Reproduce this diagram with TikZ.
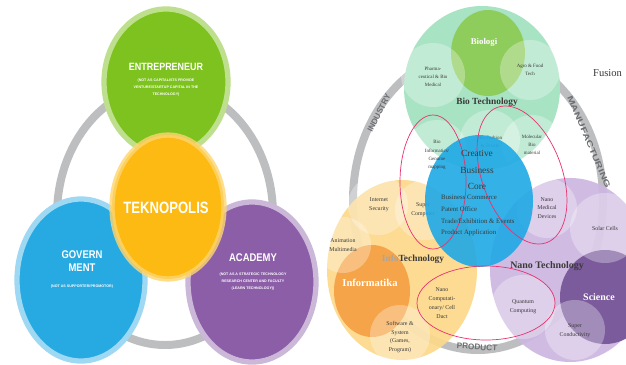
\documentclass[tikz,border=0pt]{standalone}
\usepackage{fontspec}
\setmainfont{Liberation Serif}
\setsansfont{Liberation Sans}
\definecolor{ringgray}{HTML}{BDBEC0}
\definecolor{ringtextgray}{HTML}{6D6E71}
\definecolor{entgreen}{HTML}{7DC21E}
\definecolor{tekyellow}{HTML}{FDBA12}
\definecolor{govblue}{HTML}{27A9E1}
\definecolor{acapurple}{HTML}{8C5EA8}
\definecolor{mint}{HTML}{A8E3C4}
\definecolor{biogreen}{HTML}{8ECC5C}
\definecolor{coreblue}{HTML}{1FA9E5}
\definecolor{infoyellow}{HTML}{FDD98A}
\definecolor{infoorange}{HTML}{F5A449}
\definecolor{nanopurple}{HTML}{CDB6E0}
\definecolor{sciencepurple}{HTML}{7B5B9C}
\definecolor{loopred}{HTML}{E8336F}
\definecolor{labeldark}{HTML}{3A3A3A}
\tikzset{
  greyring/.style={draw=ringgray, line width=6.8pt},
  bigdisc/.style={line width=4.5pt},
  softdisc/.style={fill=white, fill opacity=.3},
  pinkloop/.style={draw=loopred, line width=.6pt},
  bighead/.style={text=white, font=\sffamily\bfseries\fontsize{9}{10}\selectfont, align=center, inner sep=0pt},
  finetext/.style={text=white, font=\sffamily\bfseries\fontsize{3.1}{6}\selectfont, align=center, inner sep=0pt},
  ringtext/.style={text=ringtextgray, font=\sffamily\bfseries\fontsize{7}{7}\selectfont, inner sep=0pt},
  smalllbl/.style={text=labeldark, font=\fontsize{5}{7.5}\selectfont, align=center, inner sep=0pt},
  techlbl/.style={text=labeldark, font=\bfseries\fontsize{8}{9}\selectfont, inner sep=0pt},
  whitelbl/.style={text=white, font=\bfseries\fontsize{8.5}{9}\selectfont, inner sep=0pt}
}
\begin{document}
\begin{tikzpicture}[x=0.03cm, y=-0.03cm]
\clip (0,0) rectangle (626,364);
\fill[white] (0,0) rectangle (626,364);

\draw[greyring] (165,215) ellipse [x radius=108, y radius=130];
\filldraw[bigdisc, fill=entgreen, draw=entgreen!50] (166,82) ellipse [x radius=62, y radius=73];
\filldraw[bigdisc, fill=govblue, draw=govblue!45] (81,280) ellipse [x radius=64, y radius=81];
\filldraw[bigdisc, fill=acapurple, draw=acapurple!45] (252,282) ellipse [x radius=64, y radius=80];
\filldraw[bigdisc, fill=tekyellow, draw=tekyellow!60, draw opacity=.8] (168,207) ellipse [x radius=56, y radius=72];

\node[bighead] (entre) at (166,67) {\scalebox{.85}[1]{ENTREPRENEUR}};
\node[finetext] (entrenote) at (166,88) {(NOT AS CAPITALISTS PROVIDE\\VENTURE/STARTUP CAPITAL IN THE\\TECHNOLOGY)};
\node[bighead, font=\sffamily\bfseries\fontsize{14}{14}\selectfont] (tekno) at (166,208) {\scalebox{.8}[1]{TEKNOPOLIS}};
\node[bighead, font=\sffamily\bfseries\fontsize{9.5}{11.5}\selectfont] (govern) at (82,261) {\scalebox{.85}[1]{GOVERN}\\\scalebox{.85}[1]{MENT}};
\node[finetext] (governnote) at (82,287) {(NOT AS SUPPORTER/PROMOTOR)};
\node[bighead, font=\sffamily\bfseries\fontsize{9.5}{10}\selectfont] (academy) at (253,258) {\scalebox{.85}[1]{ACADEMY}};
\node[finetext] (academynote) at (253,282) {(NOT AS A STRATEGIC TECHNOLOGY\\RESEARCH CENTER AND FACULTY\\(LEARN TECHNOLOGY))};

\draw[greyring] (478,200) ellipse [x radius=125, y radius=150];
\fill[mint] (482,88) ellipse [x radius=78, y radius=82];
\fill[biogreen] (488,53) ellipse [x radius=37, y radius=43];
\foreach \cx/\cy/\r in {433/75/32, 530/70/30, 437/150/30, 490/140/30, 532/145/30}
  \fill[softdisc] (\cx,\cy) circle [radius=\r];

\fill[infoyellow, fill opacity=.92] (402,270) ellipse [x radius=75, y radius=90];
\fill[infoorange] (372,291) ellipse [x radius=38, y radius=46];
\foreach \cx/\cy/\r in {378/205/30, 343/245/28, 425/210/30, 400/335/30}
  \fill[softdisc] (\cx,\cy) circle [radius=\r];

\fill[nanopurple, fill opacity=.92] (570,270) ellipse [x radius=80, y radius=92];
\fill[sciencepurple] (605,297) ellipse [x radius=45, y radius=47];
\foreach \cx/\cy/\r in {547/208/30, 605/228/35, 523/307/32, 575/330/30}
  \fill[softdisc] (\cx,\cy) circle [radius=\r];

\node[smalllbl, font=\fontsize{4.2}{7}\selectfont] (biofashion) at (490,142) {Bio Fashion\\\& Textile};
\node[smalllbl] (supercomp) at (423,210) {Super\\Computer};

\fill[coreblue, fill opacity=.9] (479,201) ellipse [x radius=54, y radius=66];

\draw[pinkloop] (433,182) ellipse [x radius=33, y radius=67];
\draw[pinkloop] (522,175) ellipse [x radius=40, y radius=72, rotate=20];
\draw[pinkloop] (486,303) ellipse [x radius=69, y radius=37];

\node[ringtext, rotate=63] (industry) at (379,113) {INDUSTRY};
\node[ringtext, rotate=-67, font=\sffamily\bfseries\fontsize{8}{8}\selectfont] (manufacturing) at (589,142) {\scalebox{1.2}[.85]{MANUFACTURING}};
\node[ringtext, rotate=-4] (product) at (477,347) {PRODUCT};

\node[whitelbl, font=\bfseries\fontsize{7.5}{8}\selectfont] (biologi) at (484,42) {Biologi};
\node[smalllbl, font=\fontsize{4.2}{7}\selectfont] (pharma) at (433,77) {Pharma-\\ceutical \& Bio\\Medical};
\node[smalllbl, font=\fontsize{4.2}{7}\selectfont] (agro) at (530,70) {Agro \& Food\\Tech};
\node[techlbl] (biotech) at (487,102) {Bio Technology};
\node[smalllbl, font=\fontsize{4.2}{7}\selectfont] (bioinfo) at (437,155) {Bio\\Informatics/\\Genome\\mapping};
\node[smalllbl, font=\fontsize{4.2}{7}\selectfont] (molecular) at (532,145) {Molecular\\Bio\\material};
\node[smalllbl, font=\fontsize{8}{14}\selectfont] (core) at (477,170) {Creative\\Business\\Core};
\node[smalllbl, font=\fontsize{5.8}{10}\selectfont, align=left, anchor=north west] (corelist) at (441,195) {Business Commerce\\Patent Office\\Trade/Exhibition \& Events\\Product Application};
\node[smalllbl] (medical) at (547,208) {Nano\\Medical\\Devices};
\node[smalllbl] (security) at (379,205) {Internet\\Security};
\node[smalllbl] (animation) at (343,245) {Animation\\Multimedia};
\node[techlbl] (infotech) at (413,259) {\textcolor{labeldark!45}{Info}Technology};
\node[whitelbl, font=\bfseries\fontsize{9}{9}\selectfont] (informatika) at (370,283) {Informatika};
\node[smalllbl] (nanocomp) at (442,303) {Nano\\Computati-\\onary/ Cell\\Duct};
\node[smalllbl] (software) at (400,337) {Software \&\\System\\(Games,\\Program)};
\node[techlbl, font=\bfseries\fontsize{8.5}{9}\selectfont] (nanotech) at (547,266) {Nano Technology};
\node[smalllbl] (solar) at (605,228) {Solar Cells};
\node[whitelbl] (science) at (599,297) {Science};
\node[smalllbl] (quantum) at (523,307) {Quantum\\Computing};
\node[smalllbl] (superconduct) at (575,331) {Super\\Conductivity};
\node[techlbl, font=\fontsize{9}{9}\selectfont, anchor=west] (fusion) at (593,73) {Fusion};
\end{tikzpicture}
\end{document}
